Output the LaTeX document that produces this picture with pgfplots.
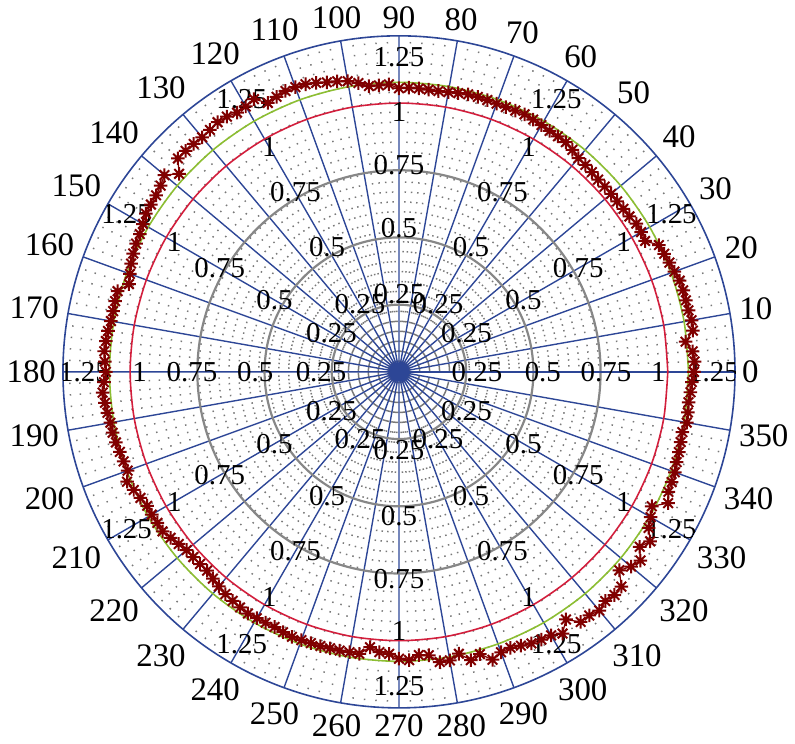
\documentclass[border=0pt]{standalone}
\usepackage{fontspec}
\setmainfont{Liberation Serif}
\usepackage{pgfplots}
\usepackage{pgfplotstable}
\pgfplotsset{compat=1.18}
\usepgfplotslibrary{polar}

\definecolor{spoke}{RGB}{45,70,150}
\definecolor{redc}{RGB}{210,30,60}
\definecolor{greenc}{RGB}{140,190,50}
\definecolor{datac}{RGB}{128,0,0}
\definecolor{gridgray}{RGB}{135,135,135}

% 8-spoke asterisk marker
\pgfdeclareplotmark{ast8}{%
  \pgfpathmoveto{\pgfqpoint{-\pgfplotmarksize}{0pt}}%
  \pgfpathlineto{\pgfqpoint{\pgfplotmarksize}{0pt}}%
  \pgfpathmoveto{\pgfqpoint{0pt}{-\pgfplotmarksize}}%
  \pgfpathlineto{\pgfqpoint{0pt}{\pgfplotmarksize}}%
  \pgfpathmoveto{\pgfpointpolar{45}{\pgfplotmarksize}}%
  \pgfpathlineto{\pgfpointpolar{225}{\pgfplotmarksize}}%
  \pgfpathmoveto{\pgfpointpolar{135}{\pgfplotmarksize}}%
  \pgfpathlineto{\pgfpointpolar{315}{\pgfplotmarksize}}%
  \pgfusepathqstroke}

\pgfplotstableread{
ang r
0 1.097
2 1.100
4 1.095
6 1.072
8 1.104
10 1.105
12 1.101
14 1.100
16 1.100
18 1.098
20 1.090
22 1.085
24 1.080
26 1.076
28 1.037
30 1.040
32 1.041
34 1.034
36 1.032
38 1.030
40 1.030
42 1.030
44 1.030
46 1.033
48 1.036
50 1.038
52 1.048
54 1.056
56 1.057
58 1.057
60 1.060
62 1.063
64 1.066
66 1.064
68 1.062
70 1.062
72 1.063
74 1.064
76 1.064
78 1.060
80 1.057
82 1.055
84 1.056
86 1.057
88 1.058
90 1.055
92 1.070
94 1.068
96 1.069
98 1.085
100 1.098
102 1.105
104 1.110
106 1.118
108 1.125
110 1.127
112 1.127
114 1.120
116 1.113
118 1.149
120 1.140
122 1.137
124 1.145
126 1.148
128 1.142
130 1.139
132 1.141
134 1.143
136 1.143
138 1.101
140 1.139
142 1.125
144 1.117
146 1.113
148 1.110
150 1.100
152 1.092
154 1.088
156 1.082
158 1.075
160 1.065
162 1.056
164 1.089
166 1.088
168 1.087
170 1.088
172 1.093
174 1.096
176 1.099
178 1.095
180 1.090
182 1.098
184 1.105
186 1.100
188 1.095
190 1.090
192 1.089
194 1.085
196 1.080
198 1.077
200 1.074
202 1.091
204 1.080
206 1.070
208 1.061
210 1.062
212 1.060
214 1.061
216 1.050
218 1.040
220 1.031
222 1.030
224 1.029
226 1.028
228 1.035
230 1.042
232 1.049
234 1.053
236 1.057
238 1.060
240 1.058
242 1.057
244 1.056
246 1.060
248 1.063
250 1.062
252 1.061
254 1.061
256 1.060
258 1.060
260 1.059
262 1.059
264 1.030
266 1.045
268 1.050
270 1.067
272 1.073
274 1.056
276 1.060
278 1.090
280 1.090
282 1.072
284 1.105
286 1.092
288 1.126
290 1.110
292 1.107
294 1.115
296 1.124
298 1.128
300 1.132
302 1.148
304 1.111
306 1.150
308 1.150
310 1.159
312 1.147
314 1.154
316 1.150
318 1.103
320 1.127
322 1.140
324 1.107
326 1.127
328 1.095
330 1.081
332 1.065
334 1.114
336 1.097
338 1.094
340 1.092
342 1.086
344 1.083
346 1.080
348 1.078
350 1.087
352 1.085
354 1.083
356 1.087
358 1.090
360 1.097
}\meas

\begin{document}
\begin{tikzpicture}
\begin{polaraxis}[
    scale only axis,
    width=337.5pt, height=337.5pt,
    ymin=0, ymax=1.25,
    xtick={0,10,...,350},
    minor x tick num=4,
    ytick={0.25,0.5,0.75},
    yticklabels={},
    grid=both,
    major x grid style={draw=spoke, line width=0.7pt},
    minor x grid style={draw=gridgray!90!black, line width=0.75pt, dash pattern=on 0.75pt off 4.25pt},
    major y grid style={draw=gridgray, line width=1.1pt},
    axis line style={draw=spoke, line width=0.8pt},
    major tick length=0pt, minor tick length=0pt,
    /pgf/number format/assume math mode=true,
    xticklabel style={font=\fontsize{16.5}{16.5}\selectfont},
]
% reference circles
\addplot[draw=redc, line width=0.8pt, smooth] coordinates {
    (0,1) (10,1) (20,1) (30,1) (40,1) (50,1) (60,1) (70,1) (80,1)
    (90,1) (100,1) (110,1) (120,1) (130,1) (140,1) (150,1) (160,1) (170,1)
    (180,1) (190,1) (200,1) (210,1) (220,1) (230,1) (240,1) (250,1) (260,1)
    (270,1) (280,1) (290,1) (300,1) (310,1) (320,1) (330,1) (340,1) (350,1)
    (360,1)
};
\addplot[draw=greenc, line width=0.8pt, smooth] coordinates {
    (0,1.077) (10,1.077) (20,1.077) (30,1.077) (40,1.077) (50,1.077)
    (60,1.077) (70,1.077) (80,1.077) (90,1.077) (100,1.077) (110,1.077)
    (120,1.077) (130,1.077) (140,1.077) (150,1.077) (160,1.077) (170,1.077)
    (180,1.077) (190,1.077) (200,1.077) (210,1.077) (220,1.077) (230,1.077)
    (240,1.077) (250,1.077) (260,1.077) (270,1.077) (280,1.077) (290,1.077)
    (300,1.077) (310,1.077) (320,1.077) (330,1.077) (340,1.077) (350,1.077)
    (360,1.077)
};
\addplot[draw=datac, line width=0.6pt, mark=ast8, mark size=3.4pt,
    mark options={line width=1pt}] table[x=ang, y=r] {\meas};
\pgfplotsinvokeforeach{0,30,...,330}{
    \node[font=\fontsize{14.5}{14.5}\selectfont, inner sep=0pt] at (axis cs:#1,0.29) {0.25};
    \node[font=\fontsize{14.5}{14.5}\selectfont, inner sep=0pt] at (axis cs:#1,0.535) {0.5};
    \node[font=\fontsize{14.5}{14.5}\selectfont, inner sep=0pt] at (axis cs:#1,0.77) {0.75};
    \node[font=\fontsize{14.5}{14.5}\selectfont, inner sep=0pt] at (axis cs:#1,0.965) {1};
    \node[font=\fontsize{14.5}{14.5}\selectfont, inner sep=0pt] at (axis cs:#1,1.17) {1.25};
}
\end{polaraxis}
\end{tikzpicture}
\end{document}
